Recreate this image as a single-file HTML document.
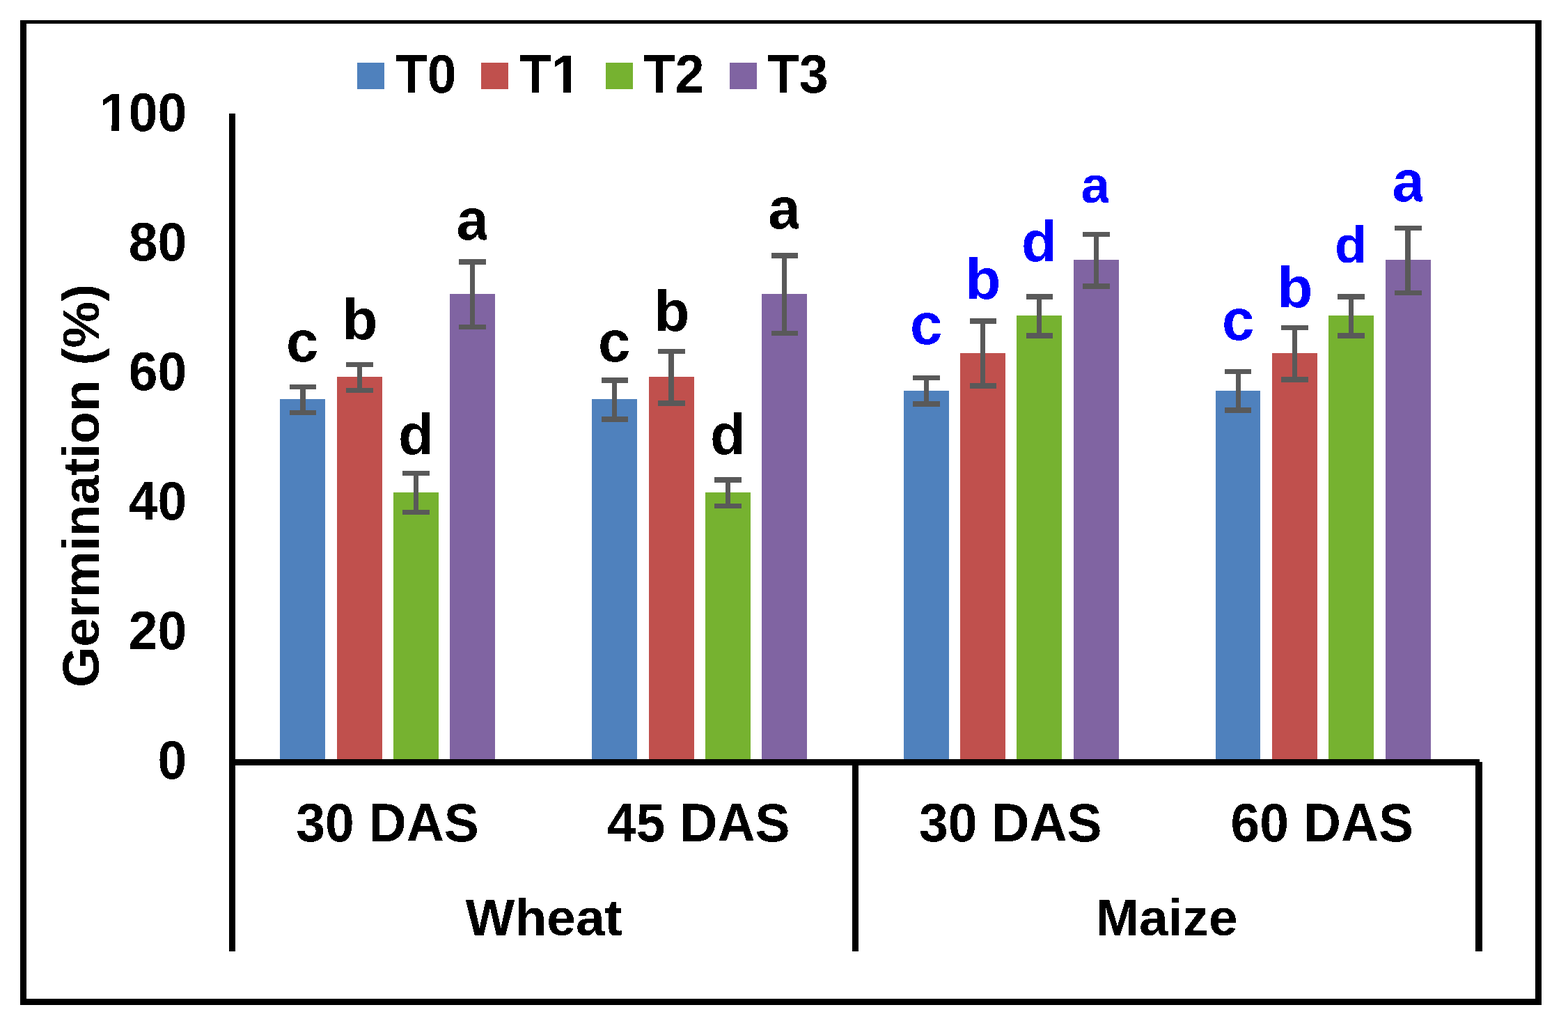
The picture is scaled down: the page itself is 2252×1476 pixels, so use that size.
<!DOCTYPE html>
<html lang="en">
<head>
<meta charset="utf-8">
<title>Germination (%) of wheat and maize</title>
<style>
html,body{margin:0;padding:0;background:#fff;}
body{width:2252px;height:1476px;overflow:hidden;}
svg{display:block;}
text{font-family:"Liberation Sans",sans-serif;font-weight:bold;}
.t{font-size:75px;fill:#000;}
.L{font-size:83.3px;}
.S{font-size:75px;}
</style>
</head>
<body>
<svg width="2252" height="1476" viewBox="0 0 2252 1476">
<defs>
<filter id="crisp" filterUnits="userSpaceOnUse" x="0" y="0" width="2252" height="1476" color-interpolation-filters="sRGB">
<feComponentTransfer><feFuncA type="discrete" tableValues="0 1"/></feComponentTransfer>
</filter>
</defs>
<rect x="0" y="0" width="2252" height="1476" fill="#fff"/>
<g shape-rendering="crispEdges">
<!-- outer frame -->
<g fill="#000">
<rect x="29" y="29" width="2185" height="5"/>
<rect x="29" y="29" width="9" height="1414"/>
<rect x="2205" y="29" width="9" height="1414"/>
<rect x="29" y="1434" width="2185" height="9"/>
</g>
<!-- bars -->
<rect x="402" y="573" width="65" height="517" fill="#4f81bd"/>
<rect x="484" y="541" width="65" height="549" fill="#c0504d"/>
<rect x="565" y="707" width="65" height="383" fill="#76b230"/>
<rect x="646" y="422" width="65" height="668" fill="#8064a2"/>
<rect x="850" y="573" width="65" height="517" fill="#4f81bd"/>
<rect x="932" y="541" width="65" height="549" fill="#c0504d"/>
<rect x="1013" y="707" width="65" height="383" fill="#76b230"/>
<rect x="1094" y="422" width="65" height="668" fill="#8064a2"/>
<rect x="1298" y="561" width="65" height="529" fill="#4f81bd"/>
<rect x="1379" y="507" width="65" height="583" fill="#c0504d"/>
<rect x="1460" y="453" width="65" height="637" fill="#76b230"/>
<rect x="1542" y="373" width="65" height="717" fill="#8064a2"/>
<rect x="1746" y="561" width="64" height="529" fill="#4f81bd"/>
<rect x="1827" y="507" width="65" height="583" fill="#c0504d"/>
<rect x="1908" y="453" width="65" height="637" fill="#76b230"/>
<rect x="1990" y="373" width="65" height="717" fill="#8064a2"/>
<!-- error bars -->
<g fill="#595959">
<rect x="416" y="552" width="38" height="7"/>
<rect x="416" y="589" width="38" height="7"/>
<rect x="431" y="552" width="8" height="44"/>
<rect x="497" y="520" width="39" height="7"/>
<rect x="497" y="557" width="39" height="7"/>
<rect x="513" y="520" width="7" height="44"/>
<rect x="578" y="676" width="39" height="7"/>
<rect x="578" y="732" width="39" height="7"/>
<rect x="594" y="676" width="7" height="63"/>
<rect x="659" y="372" width="39" height="8"/>
<rect x="659" y="466" width="39" height="7"/>
<rect x="675" y="372" width="7" height="101"/>
<rect x="864" y="542" width="38" height="8"/>
<rect x="864" y="598" width="38" height="8"/>
<rect x="879" y="542" width="7" height="64"/>
<rect x="945" y="501" width="39" height="7"/>
<rect x="945" y="575" width="39" height="8"/>
<rect x="960" y="501" width="8" height="82"/>
<rect x="1026" y="685" width="39" height="8"/>
<rect x="1026" y="723" width="39" height="7"/>
<rect x="1042" y="685" width="7" height="45"/>
<rect x="1108" y="363" width="38" height="8"/>
<rect x="1108" y="475" width="38" height="7"/>
<rect x="1123" y="363" width="7" height="119"/>
<rect x="1311" y="539" width="39" height="7"/>
<rect x="1311" y="576" width="39" height="8"/>
<rect x="1327" y="539" width="7" height="45"/>
<rect x="1393" y="457" width="38" height="8"/>
<rect x="1393" y="550" width="38" height="8"/>
<rect x="1408" y="457" width="7" height="101"/>
<rect x="1474" y="422" width="38" height="8"/>
<rect x="1474" y="478" width="38" height="8"/>
<rect x="1489" y="422" width="7" height="64"/>
<rect x="1555" y="333" width="39" height="7"/>
<rect x="1555" y="407" width="39" height="8"/>
<rect x="1571" y="333" width="7" height="82"/>
<rect x="1759" y="530" width="38" height="7"/>
<rect x="1759" y="585" width="38" height="8"/>
<rect x="1775" y="530" width="7" height="63"/>
<rect x="1840" y="467" width="39" height="7"/>
<rect x="1840" y="541" width="39" height="8"/>
<rect x="1856" y="467" width="7" height="82"/>
<rect x="1921" y="422" width="39" height="8"/>
<rect x="1921" y="478" width="39" height="8"/>
<rect x="1937" y="422" width="7" height="64"/>
<rect x="2003" y="324" width="39" height="7"/>
<rect x="2003" y="417" width="39" height="7"/>
<rect x="2018" y="324" width="8" height="100"/>
</g>
<!-- axes -->
<g fill="#000">
<rect x="329" y="163" width="9" height="1203"/>
<rect x="329" y="1090" width="1796" height="9"/>
<rect x="1224" y="1090" width="9" height="276"/>
<rect x="2119" y="1094" width="10" height="272"/>
</g>
<!-- legend swatches -->
<rect x="513" y="90" width="39" height="38" fill="#4f81bd"/>
<rect x="691" y="90" width="39" height="38" fill="#c0504d"/>
<rect x="870" y="90" width="39" height="38" fill="#76b230"/>
<rect x="1048" y="90" width="39" height="38" fill="#8064a2"/>
</g>
<g filter="url(#crisp)">
<!-- legend labels -->
<text class="t" transform="translate(567.9 133) scale(1 1.04)">T0</text>
<text class="t" transform="translate(745.9 133) scale(1 1.04)">T1</text>
<text class="t" transform="translate(923.9 133) scale(1 1.04)">T2</text>
<text class="t" transform="translate(1101.9 133) scale(1 1.04)">T3</text>
<!-- y axis tick labels -->
<text class="t" transform="translate(268.2 188.2) scale(1 1.04)" text-anchor="end">100</text>
<text class="t" transform="translate(268.2 374.2) scale(1 1.04)" text-anchor="end">80</text>
<text class="t" transform="translate(268.2 560.2) scale(1 1.04)" text-anchor="end">60</text>
<text class="t" transform="translate(268.2 746.2) scale(1 1.04)" text-anchor="end">40</text>
<text class="t" transform="translate(268.2 932.2) scale(1 1.04)" text-anchor="end">20</text>
<text class="t" transform="translate(268.2 1118.2) scale(1 1.04)" text-anchor="end">0</text>
<!-- y axis title -->
<text class="t" transform="translate(142 987) rotate(-90)" x="0" y="0">Germination (%)</text>
<!-- significance letters -->
<text class="L" x="411" y="519" fill="#000">c</text>
<text class="L" x="491.4" y="488" fill="#000">b</text>
<text class="L" x="572" y="653" fill="#000">d</text>
<text class="L" x="655.6" y="343.7" fill="#000">a</text>
<text class="L" x="859" y="519" fill="#000">c</text>
<text class="L" x="939.4" y="476" fill="#000">b</text>
<text class="L" x="1020" y="653" fill="#000">d</text>
<text class="L" x="1103.2" y="328" fill="#000">a</text>
<text class="L" x="1307" y="494" fill="#00f">c</text>
<text class="L" x="1386.4" y="430" fill="#00f">b</text>
<text class="L" x="1467" y="376" fill="#00f">d</text>
<text class="S" x="1552.6" y="291" fill="#00f">a</text>
<text class="L" x="1755" y="488" fill="#00f">c</text>
<text class="L" x="1834.4" y="442" fill="#00f">b</text>
<text class="S" x="1917" y="377.2" fill="#00f">d</text>
<text class="L" x="1999.5" y="289" fill="#00f">a</text>
<!-- category labels -->
<text class="t" transform="translate(425.3 1208) scale(1 1.04)">30 DAS</text>
<text class="t" transform="translate(872 1208) scale(1 1.04)">45 DAS</text>
<text class="t" transform="translate(1320 1208) scale(1 1.04)">30 DAS</text>
<text class="t" transform="translate(1767.5 1208) scale(1 1.04)">60 DAS</text>
<!-- group labels -->
<text class="t" x="668.6" y="1343">Wheat</text>
<text class="t" x="1573.5" y="1343">Maize</text>
</g>
<!-- trim the base of the digit 1 so it reads as a plain stroke -->
<g fill="#fff" shape-rendering="crispEdges">
<rect x="794" y="124" width="15" height="11"/>
<rect x="820" y="124" width="13" height="11"/>
<rect x="145" y="179" width="15" height="11"/>
<rect x="171" y="179" width="14" height="11"/>
<!-- shorten the tail of the letter a -->
<rect x="699" y="334" width="7" height="13"/>
<rect x="1147" y="318" width="7" height="13"/>
<rect x="1592" y="282" width="7" height="12"/>
<rect x="2043" y="279" width="7" height="13"/>
</g>
</svg>
</body>
</html>
